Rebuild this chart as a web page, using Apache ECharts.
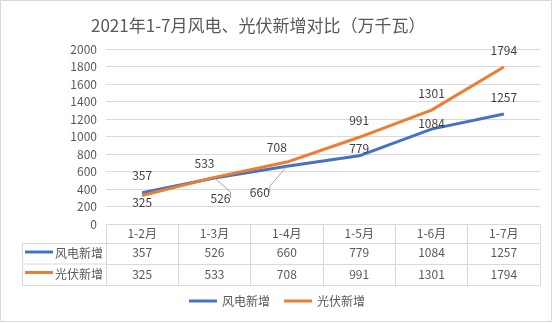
<!DOCTYPE html>
<html><head><meta charset="utf-8">
<script src="https://cdn.jsdelivr.net/npm/echarts@6/dist/echarts.min.js"></script>
<style>html,body{margin:0;padding:0;background:#fff}#c{width:554px;height:323px}</style>
</head><body><div id="c"></div>
<script>
const categories = ['1-2月','1-3月','1-4月','1-5月','1-6月','1-7月'];
const windValues = [357, 526, 660, 779, 1084, 1257];
const solarValues = [325, 533, 708, 991, 1301, 1794];
const seriesNames = ['风电新增','光伏新增'];
const yTicks = {min: 0, max: 2000, interval: 200};

const colors = ['#4472C4', '#ED7D31'];
const txt = '#595959';
const gridC = '#d9d9d9';
const FONT = '"Noto Sans CJK SC", "Noto Sans", sans-serif';

const windOffsets = [[0,-17],[6,20],[-27,26],[0,-7],[0,-6],[0,-17]];
const solarOffsets = [[0,7],[-10,-14],[-10,-15],[0,-17],[0,-17],[0,-17]];
const windLeader = [false,true,true,false,false,false];

function mkData(vals, offs, leaders){
  return vals.map((v,i)=>{
    const d = {value: v, label: {offset: offs[i]}};
    if (leaders && leaders[i]) d.labelLine = {show: true, lineStyle:{color:'#a6a6a6', width:1}, length2: 6};
    return d;
  });
}

const G = {left:106, right:14, top:49, bottom:99};
const tableLeft = 22;
const row1 = 243.5, row2 = 264, row3 = 285.5;

const chart = echarts.init(document.getElementById('c'), null, {renderer:'canvas'});
const axisCommon = {
  type:'category', data: categories, position:'bottom', boundaryGap:true,
  axisLine:{show:true, lineStyle:{color:gridC, width:1}},
  axisTick:{show:false},
  axisLabel:{color:txt, fontSize:12, fontFamily:FONT, margin:4},
  splitLine:{show:false}
};
chart.setOption({
  animation:false,
  textStyle:{fontFamily:FONT},
  title:{text:'2021年1-7月风电、光伏新增对比（万千瓦）', left:86, top:12,
    textStyle:{fontSize:17, fontWeight:'normal', color:txt, fontFamily:FONT}},
  grid:{left:G.left, right:G.right, top:G.top, bottom:G.bottom, containLabel:false},
  legend:{bottom:11, left:'center', icon:'rect', itemWidth:28, itemHeight:3, itemGap:14,
    textStyle:{color:txt, fontSize:12, fontFamily:FONT}, data: seriesNames},
  xAxis:[
    Object.assign({}, axisCommon, {offset:0,
      axisTick:{show:true, inside:false, length:62, lineStyle:{color:gridC}},
      axisLabel:{color:txt, fontSize:12, fontFamily:FONT, margin:3}}),
    Object.assign({}, axisCommon, {offset:19.5,
      axisLabel:{color:txt, fontSize:12, fontFamily:FONT, margin:3, formatter:(v,i)=>String(windValues[i])}}),
    Object.assign({}, axisCommon, {offset:40,
      axisLabel:{color:txt, fontSize:12, fontFamily:FONT, margin:4, formatter:(v,i)=>String(solarValues[i])}}),
    Object.assign({}, axisCommon, {offset:61.5, axisLabel:{show:false}})
  ],
  yAxis:{type:'value', min:yTicks.min, max:yTicks.max, interval:yTicks.interval,
    axisLine:{show:false}, axisTick:{show:false},
    axisLabel:{color:txt, fontSize:12, fontFamily:FONT, margin:9, formatter:(v)=>String(v)},
    splitLine:{lineStyle:{color:gridC, width:1}}},
  series:[
    {name:seriesNames[0], type:'line', xAxisIndex:0, data: mkData(windValues, windOffsets, windLeader),
      symbol:'circle', symbolSize:1, showSymbol:true, color:colors[0],
      lineStyle:{width:3, color:colors[0]}, itemStyle:{color:colors[0]},
      label:{show:true, position:'inside', color:'#404040', fontSize:12, fontFamily:FONT}, z:3},
    {name:seriesNames[1], type:'line', xAxisIndex:0, data: mkData(solarValues, solarOffsets),
      symbol:'circle', symbolSize:1, showSymbol:true, color:colors[1],
      lineStyle:{width:3, color:colors[1]}, itemStyle:{color:colors[1]},
      label:{show:true, position:'inside', color:'#404040', fontSize:12, fontFamily:FONT}, z:4}
  ],
  graphic:[
    {type:'rect', shape:{x:0.5, y:0.5, width:551, height:321}, style:{fill:'none', stroke:gridC, lineWidth:1}, silent:true},
    {type:'line', shape:{x1:tableLeft, y1:row1, x2:G.left, y2:row1}, style:{stroke:gridC, lineWidth:1}},
    {type:'line', shape:{x1:tableLeft, y1:row2, x2:G.left, y2:row2}, style:{stroke:gridC, lineWidth:1}},
    {type:'line', shape:{x1:tableLeft, y1:row3, x2:G.left, y2:row3}, style:{stroke:gridC, lineWidth:1}},
    {type:'line', shape:{x1:tableLeft+0.5, y1:row1, x2:tableLeft+0.5, y2:row3}, style:{stroke:gridC, lineWidth:1}},
    {type:'line', shape:{x1:25, y1:252, x2:53, y2:252}, style:{stroke:colors[0], lineWidth:3}},
    {type:'text', x:55, y:(row1+row2)/2, style:{text:seriesNames[0], fill:txt, fontSize:12, fontFamily:FONT, verticalAlign:'middle'}},
    {type:'line', shape:{x1:25, y1:272.5, x2:53, y2:272.5}, style:{stroke:colors[1], lineWidth:3}},
    {type:'text', x:55, y:(row2+row3)/2, style:{text:seriesNames[1], fill:txt, fontSize:12, fontFamily:FONT, verticalAlign:'middle'}}
  ]
});
</script></body></html>
